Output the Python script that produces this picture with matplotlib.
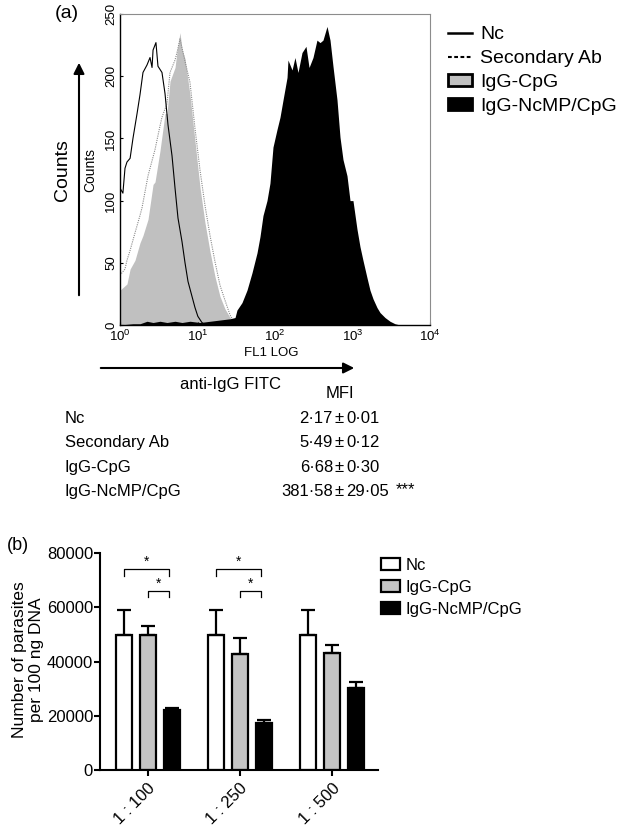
import matplotlib
matplotlib.use('Agg')
import matplotlib.pyplot as plt
import numpy as np
from matplotlib.lines import Line2D
from matplotlib.patches import Patch, FancyArrowPatch
from matplotlib.transforms import ScaledTranslation

plt.rcParams['font.family'] = ['Liberation Sans', 'DejaVu Sans']
plt.rcParams['mathtext.fontset'] = 'custom'
plt.rcParams['mathtext.rm'] = 'Liberation Sans'
plt.rcParams['mathtext.it'] = 'Liberation Sans:italic'
plt.rcParams['mathtext.bf'] = 'Liberation Sans:bold'

# ---------------- data: panel (a) flow cytometry histograms ----------------
nc_fl1 = [1.00, 1.09, 1.16, 1.23, 1.35, 1.47, 1.66, 1.81, 1.98, 2.23, 2.44, 2.59, 2.67,
          2.91, 3.09, 3.48, 3.81, 4.16, 4.69, 5.13, 5.60, 6.31, 6.90, 7.54, 8.49, 9.28,
          10.1, 11.4, 12.5, 14.5]
nc_counts = [110, 106, 126, 131, 134, 150, 170, 185, 203, 209, 215, 207, 221,
             227, 208, 203, 186, 161, 136, 110, 86, 67, 50, 35, 23, 14,
             7, 2, 0, 0]

sec_fl1 = [1.00, 1.16, 1.23, 1.35, 1.56, 1.81, 1.92, 2.30, 2.83, 3.28, 3.48, 4.04, 4.42,
           5.13, 5.44, 5.94, 6.90, 8.00, 9.28, 10.8, 12.5, 14.5, 16.8, 19.5, 22.6, 26.3, 30.5]
sec_counts = [40, 45, 52, 60, 74, 88, 94, 120, 141, 160, 167, 178, 203,
              213, 219, 230, 212, 195, 158, 124, 96, 72, 51, 32, 20, 8, 1]

cpg_fl1 = [1.00, 1.23, 1.35, 1.56, 1.81, 1.98, 2.30, 2.67, 2.83, 3.28, 3.81, 4.04, 4.42,
           5.13, 5.44, 5.94, 6.31, 6.90, 8.00, 9.28, 10.8, 12.5, 14.5, 16.8, 19.5, 22.6,
           26.3, 30.5, 35.3]
cpg_counts = [28, 33, 45, 52, 66, 72, 85, 113, 115, 140, 170, 170, 196,
              207, 220, 235, 222, 214, 185, 148, 110, 82, 59, 39, 23, 13,
              6, 2, 0]

ncmp_fl1 = [1.00, 1.47, 1.81, 2.23, 2.67, 3.28, 4.04, 5.13, 6.31, 8.00, 10.8, 14.5, 19.5,
            26.3, 30.5, 32.3, 37.5, 43.5, 50.5, 58.6, 64.0, 70.0, 78.8, 86.1, 94.2, 106,
            116, 127, 143, 147, 166, 181, 198, 223, 251, 275, 309, 348, 381, 416, 469,
            513, 560, 631, 690, 754, 849, 929, 1014, 1143, 1249, 1365, 1538, 1681, 1841,
            2071, 2264, 2626, 3048, 3534, 4100]
ncmp_counts = [0, 1, 1, 3, 2, 3, 2, 3, 2, 3, 2, 3, 4,
               5, 6, 12, 18, 28, 42, 58, 71, 88, 100, 114, 143, 157,
               167, 181, 199, 213, 205, 215, 203, 219, 224, 207, 215, 229, 227, 229, 240,
               229, 208, 181, 151, 133, 120, 100, 100, 77, 63, 52, 38, 28, 21,
               14, 10, 6, 3, 1, 0]

hist_labels = ['Nc', 'Secondary Ab', 'IgG-CpG', 'IgG-NcMP/CpG']
hist_yticks = [0, 50, 100, 150, 200, 250]
hist_xticks = [1, 10, 100, 1000, 10000]
hist_xticklabels = [r'$\mathregular{10^{0}}$', r'$\mathregular{10^{1}}$', r'$\mathregular{10^{2}}$',
                    r'$\mathregular{10^{3}}$', r'$\mathregular{10^{4}}$']

# MFI table
mfi_groups = ['Nc', 'Secondary Ab', 'IgG-CpG', 'IgG-NcMP/CpG']
mfi_mean = ['2·17', '5·49', '6·68', '381·58']
mfi_sd = ['0·01', '0·12', '0·30', '29·05']
mfi_sig = ['', '', '', '***']

# ---------------- data: panel (b) bars ----------------
dilutions = ['1 : 100', '1 : 250', '1 : 500']
bar_labels = ['Nc', 'IgG-CpG', 'IgG-NcMP/CpG']
nc_mean = [49600, 49600, 49600]
nc_err = [9500, 9500, 9500]
cpg_mean = [49600, 42800, 43100]
cpg_err = [3600, 6000, 3000]
ncmp_mean = [22200, 17400, 30100]
ncmp_err = [500, 1000, 2300]
bar_yticks = [0, 20000, 40000, 60000, 80000]
bracket_y = [74000, 66000]

# ---------------- figure ----------------
W, H = 617, 833
fig = plt.figure(figsize=(W / 100, H / 100), dpi=100)


def fx(x):
    return x / W


def fy(y):
    return 1 - y / H


# ---- panel (a)
axa = fig.add_axes([fx(120), fy(325), (430 - 120) / W, (325 - 14) / H])
axa.fill_between(cpg_fl1, cpg_counts, 0, color='#c0c0c0', lw=0, zorder=1)
axa.plot(sec_fl1, sec_counts, color='#8a8a8a', lw=0.8, ls=(0, (1, 1)), zorder=2)
axa.plot(nc_fl1, nc_counts, color='black', lw=0.8, zorder=3)
axa.fill_between(ncmp_fl1, ncmp_counts, 0, color='black', lw=0, zorder=4)
axa.set_xscale('log')
axa.set_xlim(1, 1e4)
axa.set_ylim(0, 250)
axa.set_yticks(hist_yticks)
axa.set_xticks(hist_xticks)
axa.set_xticklabels(hist_xticklabels)
axa.xaxis.set_minor_locator(matplotlib.ticker.NullLocator())
axa.tick_params(axis='y', labelrotation=90, labelsize=9.5, length=2, direction='in', pad=2)
axa.tick_params(axis='x', labelsize=9.5, length=2, direction='in', pad=3)
for lab in axa.get_yticklabels():
    lab.set_va('center')
for s in ['top', 'right']:
    axa.spines[s].set_color('#8c8c8c')
    axa.spines[s].set_linewidth(0.8)
for s in ['left', 'bottom']:
    axa.spines[s].set_linewidth(1.0)

fig.text(fx(90), fy(170), 'Counts', rotation=90, ha='center', va='center', fontsize=10)
fig.text(fx(271), fy(353), 'FL1 LOG', ha='center', va='center', fontsize=9.5)
fig.text(fx(67), fy(14), '(a)', ha='center', va='center', fontsize=14)
fig.text(fx(63), fy(170), 'Counts', rotation=90, ha='center', va='center', fontsize=14)

fig.add_artist(FancyArrowPatch((fx(79), fy(298)), (fx(79), fy(60)), transform=fig.transFigure,
                               arrowstyle='-|>', mutation_scale=16, lw=1.5, color='k'))
fig.add_artist(FancyArrowPatch((fx(98), fy(368)), (fx(357), fy(368)), transform=fig.transFigure,
                               arrowstyle='-|>', mutation_scale=16, lw=1.5, color='k'))
fig.text(fx(230), fy(385), 'anti-IgG FITC', ha='center', va='center', fontsize=12)
fig.text(fx(340), fy(393), 'MFI', ha='center', va='center', fontsize=12)

row_y = [418, 443, 467, 492]
for g, m, sd, sig, yy in zip(mfi_groups, mfi_mean, mfi_sd, mfi_sig, row_y):
    fig.text(fx(65), fy(yy), g, ha='left', va='center', fontsize=12)
    fig.text(fx(333), fy(yy), m, ha='right', va='center', fontsize=12)
    fig.text(fx(339), fy(yy), '±', ha='center', va='center', fontsize=12)
    fig.text(fx(346), fy(yy), sd, ha='left', va='center', fontsize=12)
    if sig:
        fig.text(fx(396), fy(yy - 2), sig, ha='left', va='center', fontsize=12)

leg_a_handles = [Line2D([], [], color='k', lw=1.8),
                 Line2D([], [], color='k', lw=1.5, ls=(0, (1.8, 1.2))),
                 Patch(facecolor='#c0c0c0', edgecolor='k', lw=2),
                 Patch(facecolor='k', edgecolor='k', lw=2)]
fig.legend(leg_a_handles, hist_labels, loc='upper left', bbox_to_anchor=(fx(448), fy(26)),
           frameon=False, fontsize=14, handlelength=1.25, handleheight=0.6,
           handletextpad=0.4, labelspacing=0.36, borderpad=0, borderaxespad=0)

# ---- panel (b)
axb = fig.add_axes([fx(100), fy(770), (378 - 100) / W, (770 - 553) / H])
x = np.arange(len(dilutions))
off = 0.26
bw = 0.17
series = [(nc_mean, nc_err, 'white'), (cpg_mean, cpg_err, '#c4c4c4'), (ncmp_mean, ncmp_err, 'black')]
for i, (m, e, c) in enumerate(series):
    xi = x + (i - 1) * off
    axb.bar(xi, m, width=bw, color=c, edgecolor='black', linewidth=1.6, zorder=2,
            label=bar_labels[i])
    axb.errorbar(xi, m, yerr=[np.zeros(len(m)), e], fmt='none', ecolor='black',
                 elinewidth=1.6, capsize=4.8, capthick=1.6, zorder=3)

# significance brackets
for g in [0, 1]:
    xa, xb_, xc = g - off, g, g + off - 0.03
    y0, y1 = bracket_y
    axb.plot([xa, xa, xc, xc], [y0 - 2400, y0, y0, y0 - 2400], color='k', lw=0.9, clip_on=False)
    axb.text((xa + xc) / 2, y0 + 200, '*', ha='center', va='bottom', fontsize=10)
    axb.plot([xb_, xb_, xc, xc], [y1 - 2400, y1, y1, y1 - 2400], color='k', lw=0.9, clip_on=False)
    axb.text((xb_ + xc) / 2, y1 + 200, '*', ha='center', va='bottom', fontsize=10)

axb.set_xlim(-0.52, 2.50)
axb.set_ylim(0, 80000)
axb.set_yticks(bar_yticks)
axb.set_xticks(x)
axb.set_xticklabels(dilutions, rotation=45, ha='right', va='top', rotation_mode='anchor')
for lab in axb.get_xticklabels():
    lab.set_transform(lab.get_transform() + ScaledTranslation(4 / 100, -2 / 100, fig.dpi_scale_trans))
axb.tick_params(axis='both', labelsize=12, length=4, width=1.5, direction='out')
axb.tick_params(axis='y', pad=1)
for s in ['top', 'right']:
    axb.spines[s].set_visible(False)
for s in ['left', 'bottom']:
    axb.spines[s].set_linewidth(1.5)

fig.text(fx(28), fy(660), 'Number of parasites\nper 100 ng DNA', rotation=90, ha='center',
         va='center', fontsize=12.5, linespacing=1.15)
fig.text(fx(18), fy(545), '(b)', ha='center', va='center', fontsize=13)

handles_b, labels_b = axb.get_legend_handles_labels()
fig.legend(handles_b, labels_b, loc='upper left', bbox_to_anchor=(fx(381), fy(558)),
           frameon=False, fontsize=12, handlelength=1.15, handleheight=0.75,
           handletextpad=0.3, labelspacing=0.42, borderpad=0, borderaxespad=0)

fig.savefig('out.png', dpi=100)
